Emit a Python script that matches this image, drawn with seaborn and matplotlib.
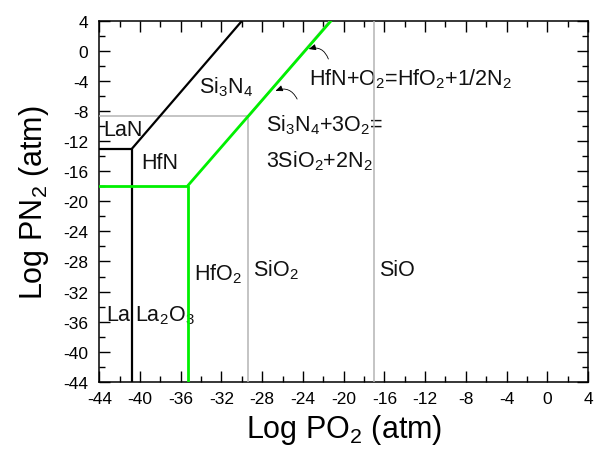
import matplotlib
matplotlib.use("Agg")
import matplotlib.pyplot as plt
import seaborn as sns
import pandas as pd

sns.set_theme(style="ticks")
plt.rcParams["font.family"] = ["Liberation Sans", "DejaVu Sans"]
plt.rcParams["mathtext.fontset"] = "custom"
plt.rcParams["mathtext.rm"] = "Liberation Sans"
plt.rcParams["mathtext.it"] = "Liberation Sans"
plt.rcParams["mathtext.default"] = "regular"

# Phase boundaries (log PO2, log PN2)
la_x = [-44, -40.8, -40.8]
la_y = [-13.0, -13.0, -44]
la_diag_x = [-40.8, -30.0]
la_diag_y = [-13.0, 4]

hf_x = [-44, -35.3, -35.3]
hf_y = [-17.9, -17.9, -44]
hf_diag_x = [-35.3, -21.25]
hf_diag_y = [-17.9, 4]

si_x = [-44, -29.35, -29.35]
si_y = [-8.7, -8.7, -44]
si_diag_x = [-29.35, -21.35]
si_diag_y = [-8.7, 4]

sio_x = [-17.0, -17.0]
sio_y = [4, -44]

ticks = list(range(-44, 5, 4))
minor_ticks = list(range(-44, 5, 2))

fig = plt.figure(figsize=(5.94, 4.56), dpi=100)
ax = fig.add_axes([0.1672, 0.1607, 0.8227, 0.7911])

def seg(xs, ys, color, lw, z):
    df = pd.DataFrame({"x": xs, "y": ys})
    sns.lineplot(data=df, x="x", y="y", sort=False, estimator=None,
                 color=color, lw=lw, ax=ax, zorder=z)

gray = "#b4b4b4"
green = "#00f000"
seg(si_x, si_y, gray, 1.1, 3)
seg(si_diag_x, si_diag_y, gray, 1.6, 3)
seg(sio_x, sio_y, gray, 1.1, 3)
seg(la_x, la_y, "black", 1.6, 4)
seg(la_diag_x, la_diag_y, "black", 1.6, 4)
seg(hf_x, hf_y, green, 2.0, 5)
seg(hf_diag_x, hf_diag_y, green, 2.0, 5)

ax.set_xlim(-44, 4)
ax.set_ylim(-44, 4)
ax.set_xticks(ticks)
ax.set_yticks(ticks)
ax.set_xticks(minor_ticks, minor=True)
ax.set_yticks(minor_ticks, minor=True)
ax.set_xticklabels([str(t) for t in ticks])
ax.set_yticklabels([str(t) for t in ticks])
ax.tick_params(which="both", direction="in", top=True, right=True,
               bottom=True, left=True, color="black", width=1.0)
ax.tick_params(which="major", length=8, labelsize=12.5, labelcolor="black")
ax.tick_params(axis="x", which="major", pad=7)
ax.tick_params(axis="y", which="major", pad=8)
ax.tick_params(which="minor", length=4.5)
for s in ax.spines.values():
    s.set_visible(True)
    s.set_color("black")
    s.set_linewidth(1.1)

ax.set_xlabel("Log PO$_2$ (atm)", fontsize=22, labelpad=4, color="black")
ax.set_ylabel("Log PN$_2$ (atm)", fontsize=22, labelpad=9, color="black")

fs = 15.5
labels = [
    (-34.25, -5.5, "Si$_3$N$_4$"),
    (-43.6, -11.2, "LaN"),
    (-39.9, -15.5, "HfN"),
    (-23.4, -4.4, "HfN+O$_2$=HfO$_2$+1/2N$_2$"),
    (-27.6, -10.5, "Si$_3$N$_4$+3O$_2$="),
    (-27.6, -15.3, "3SiO$_2$+2N$_2$"),
    (-34.7, -30.45, "HfO$_2$"),
    (-28.93, -29.8, "SiO$_2$"),
    (-16.5, -29.8, "SiO"),
    (-43.35, -35.8, "La"),
    (-40.5, -35.8, "La$_2$O$_3$"),
]
for x, y, t in labels:
    ax.text(x, y, t, fontsize=fs, ha="left", va="baseline", color="#111111",
            zorder=2)

arrow_kw = dict(arrowstyle="-|>,head_length=0.35,head_width=0.15",
                color="black", lw=0.6, shrinkA=0, shrinkB=0)
ax.annotate("", xy=(-23.44, 0.27), xytext=(-21.5, -1.06),
            arrowprops=dict(connectionstyle="arc3,rad=0.45", **arrow_kw))
ax.annotate("", xy=(-26.7, -5.3), xytext=(-24.57, -6.39),
            arrowprops=dict(connectionstyle="arc3,rad=0.45", **arrow_kw))

fig.savefig("out.png", dpi=100)
